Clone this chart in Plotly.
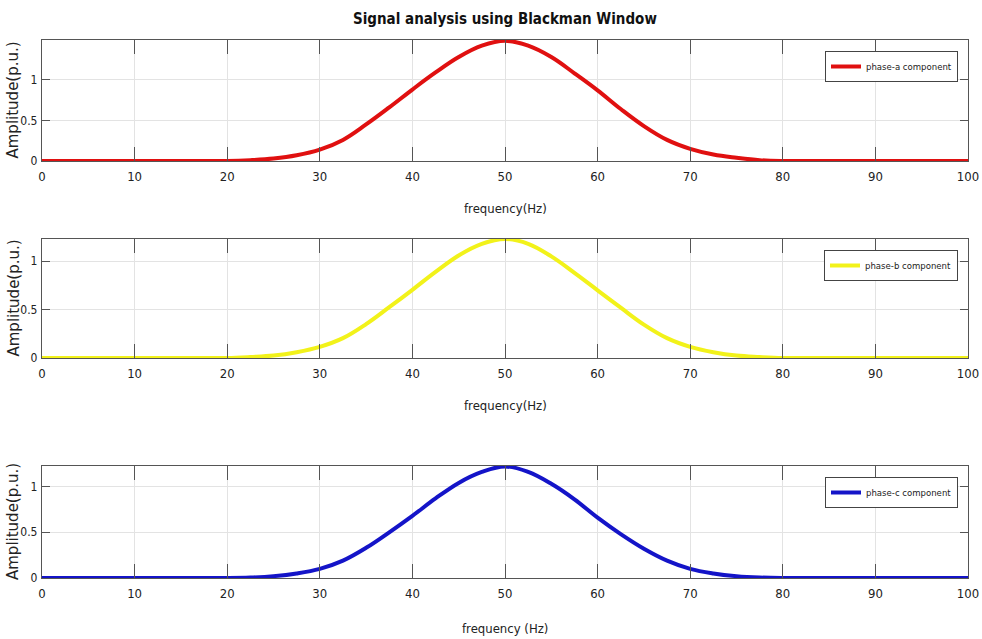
import plotly.graph_objects as go

# ---- data ----
freq = [0, 2.5, 5, 7.5, 10, 12.5, 15, 17.5, 20, 22.5, 25, 27.5, 30, 32.5, 35, 37.5,
        40, 42.5, 45, 47.5, 50, 52.5, 55, 57.5, 60, 62.5, 65, 67.5, 70, 72.5, 75,
        77.5, 80, 82.5, 85, 87.5, 90, 92.5, 95, 97.5, 100]

phase_a = [0, 0, 0, 0, 0, 0, 0, 0, 0, 0.01, 0.03, 0.07, 0.14, 0.26, 0.45, 0.66,
           0.88, 1.09, 1.28, 1.42, 1.48, 1.42, 1.28, 1.08, 0.87, 0.64, 0.43, 0.26,
           0.15, 0.08, 0.04, 0.01, 0, 0, 0, 0, 0, 0, 0, 0, 0]

phase_b = [0, 0, 0, 0, 0, 0, 0, 0, 0, 0.01, 0.025, 0.06, 0.115, 0.205, 0.35, 0.525,
           0.705, 0.89, 1.06, 1.18, 1.23, 1.18, 1.05, 0.88, 0.70, 0.52, 0.345, 0.205,
           0.115, 0.06, 0.025, 0.01, 0, 0, 0, 0, 0, 0, 0, 0, 0]

phase_c = [0, 0, 0, 0, 0, 0, 0, 0, 0, 0.005, 0.02, 0.05, 0.10, 0.19, 0.33, 0.50,
           0.68, 0.87, 1.04, 1.16, 1.22, 1.16, 1.03, 0.86, 0.66, 0.48, 0.32, 0.19,
           0.10, 0.05, 0.02, 0.005, 0, 0, 0, 0, 0, 0, 0, 0, 0]

series_names = ["phase-a component", "phase-b component", "phase-c component"]
series_colors = ["#e01010", "#f2f21a", "#1414c8"]
y_tops = [1.49, 1.23, 1.225]
x_ticks = [0, 10, 20, 30, 40, 50, 60, 70, 80, 90, 100]
y_ticks = [0, 0.5, 1]
y_tick_text = ["0", "0.5", "1"]
x_titles = ["frequency(Hz)", "frequency(Hz)", "frequency (Hz)"]
y_title = "Amplitude(p.u.)"
main_title = "Signal analysis using Blackman Window"

# ---- layout geometry ----
W, H = 982, 639
x_dom = [42 / W, 968 / W]
panels_px = [(40, 161), (239, 358), (466, 578)]  # (top, bottom) in pixels
legend_tops = [51, 250, 477]
x_title_y = [208, 405, 628]

NARROW = "Liberation Sans Narrow, Arial Narrow, DejaVu Sans Condensed, sans-serif"
TXT = "#222222"
AX = "#555555"
GRID = "#e3e3e3"

fig = go.Figure()
all_y = [phase_a, phase_b, phase_c]
layout = dict(
    width=W, height=H,
    margin=dict(l=0, r=0, t=0, b=0, autoexpand=False),
    paper_bgcolor="white", plot_bgcolor="white",
    font=dict(family=NARROW, color=TXT, size=13),
    annotations=[],
)

for i in range(3):
    sfx = "" if i == 0 else str(i + 1)
    fig.add_trace(go.Scatter(
        x=freq, y=all_y[i], mode="lines", name=series_names[i],
        line=dict(color=series_colors[i], width=4, shape="spline", smoothing=1.1),
        xaxis="x" + sfx, yaxis="y" + sfx, cliponaxis=False,
        legend="legend" + sfx, showlegend=True,
    ))
    top, bot = panels_px[i]
    ydom = [1 - bot / H, 1 - top / H]
    layout["xaxis" + sfx] = dict(
        domain=x_dom, anchor="y" + sfx, range=[0, 100], automargin=False,
        tickmode="array", tickvals=x_ticks, ticks="inside", ticklen=14,
        tickwidth=1.3, tickcolor=AX, showline=True, linecolor=AX, linewidth=1.3,
        mirror="allticks", showgrid=True, gridcolor=GRID, gridwidth=1,
        zeroline=False, tickfont=dict(family=NARROW, size=13, color=TXT),
        ticklabelstandoff=3,
    )
    layout["yaxis" + sfx] = dict(
        domain=ydom, anchor="x" + sfx, range=[0, y_tops[i]], automargin=False,
        tickmode="array", tickvals=y_ticks, ticktext=y_tick_text,
        ticks="inside", ticklen=8, tickwidth=1.3, tickcolor=AX,
        showline=True, linecolor=AX, linewidth=1.3, mirror="allticks",
        showgrid=True, gridcolor=GRID, gridwidth=1, zeroline=False,
        tickfont=dict(family=NARROW, size=12, color=TXT), ticklabelstandoff=1,
    )
    layout["legend" + sfx] = dict(
        x=958 / W, y=1 - legend_tops[i] / H, xanchor="right", yanchor="top",
        bgcolor="white", bordercolor="#444444", borderwidth=1,
        font=dict(family=NARROW, size=9.5, color=TXT),
        itemwidth=30, tracegroupgap=0,
    )
    layout["annotations"].append(dict(
        text=x_titles[i], xref="paper", yref="paper",
        x=(42 + 968) / 2 / W, y=1 - x_title_y[i] / H, xanchor="center",
        yanchor="middle", showarrow=False,
        font=dict(family=NARROW, size=13, color=TXT),
    ))
    layout["annotations"].append(dict(
        text=y_title, xref="paper", yref="paper",
        x=13 / W, y=1 - (top + bot) / 2 / H, xanchor="center", yanchor="middle",
        textangle=-90, showarrow=False,
        font=dict(family="DejaVu Sans, sans-serif", size=15, color=TXT),
    ))

layout["annotations"].append(dict(
    text="<b>" + main_title + "</b>", xref="paper", yref="paper",
    x=505 / W, y=1 - 19 / H, xanchor="center", yanchor="middle",
    showarrow=False, font=dict(family=NARROW, size=15, color="#111111"),
))

fig.update_layout(**layout)
fig.write_html("out.html", config={"displayModeBar": False},
               post_script="document.body.style.margin='0px';")
